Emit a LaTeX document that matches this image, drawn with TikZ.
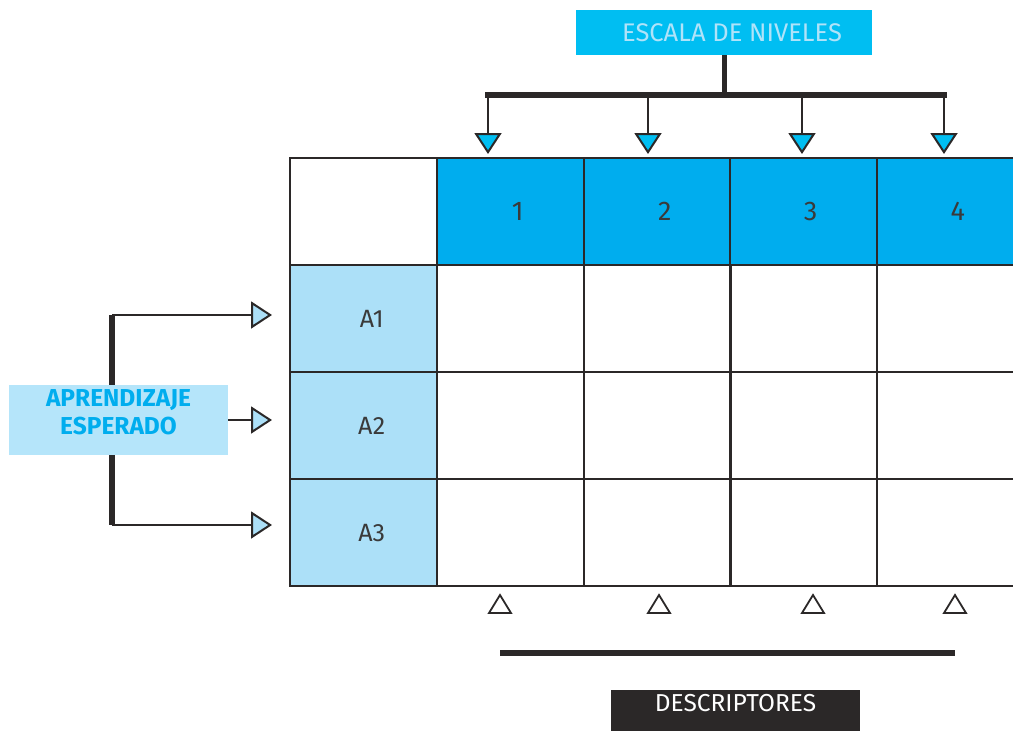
\documentclass[tikz,border=0pt]{standalone}
\usepackage{fontspec}
\setmainfont{Fira Sans}
\usetikzlibrary{arrows.meta}
\definecolor{dark}{HTML}{2B2828}
\definecolor{topcyan}{HTML}{00BEF2}
\definecolor{headcyan}{HTML}{00ADEE}
\definecolor{toptext}{HTML}{B0E3F9}
\definecolor{lightblue}{HTML}{ACE0F8}
\definecolor{leftbox}{HTML}{B5E5FA}
\definecolor{numgray}{HTML}{3A3A3A}
\tikzset{
  cell/.style={draw=dark, line width=2.4pt, minimum width=147pt, minimum height=107pt,
    inner sep=0pt, anchor=north west, text=numgray, font=\fontsize{27}{30}\selectfont},
  headcell/.style={cell, fill=headcyan},
  acell/.style={cell, fill=lightblue},
  numlab/.style={text=numgray, font=\fontsize{27}{30}\selectfont, xshift=7pt},
  downarrow/.style={draw=dark, line width=2pt,
    -{Triangle[width=27pt,length=21pt,fill=topcyan]}},
  rightarrow/.style={draw=dark, line width=2pt,
    -{Triangle[width=27pt,length=21pt,fill=lightblue]}},
  thickbar/.style={draw=dark, line width=6pt},
  opentri/.style={draw=dark, line width=1.8pt, fill=white, line join=miter},
}
\begin{document}
\begin{tikzpicture}[x=1pt,y=-1pt]
\clip (0,0) rectangle (1013,731);
\fill[white] (0,0) rectangle (1013,731);

% title box and its connectors
\node[fill=topcyan, minimum width=296pt, minimum height=45pt, inner sep=0pt] (esc) at (724,32.5) {};
\node[inner sep=0pt, text=toptext, font=\fontsize{25.5}{28}\selectfont] (esct) at (732,33) {ESCALA DE NIVELES};
\coordinate (bj) at (724,94.5);
\coordinate (bl) at (485,94.5);
\coordinate (br) at (947,94.5);
\draw[draw=dark, line width=5pt] (esc.south) -- (bj);
\draw[thickbar] (bl) -- (br);
\foreach \x [count=\i] in {488,648,802,944}{
  \coordinate (d\i) at (\x,94.5);
  \coordinate (t\i) at (\x,154);
  \draw[downarrow] (d\i) -- (t\i);
}

% table
\node[cell] (c00) at (289,157) {};
\node[headcell, label={[numlab]center:1}] (h1) at (436,157) {};
\node[headcell, label={[numlab]center:2}] (h2) at (583,157) {};
\node[headcell, label={[numlab]center:3}] (h3) at (729,157) {};
\node[headcell, label={[numlab]center:4}] (h4) at (876,157) {};
\foreach \y [count=\r] in {264,371,478}{
  \node[acell, label={[text=numgray, font=\fontsize{25}{28}\selectfont, xshift=8pt]center:A\r}] (a\r) at (289,\y) {};
  \foreach \x [count=\c] in {436,583,729,876}{
    \node[cell] (c\r\c) at (\x,\y) {};
  }
}

% left side: APRENDIZAJE ESPERADO
\coordinate (lt) at (112,315);
\coordinate (lb) at (112,525);
\draw[thickbar] (lt) -- (lb);
\coordinate (e1) at (272,315);
\coordinate (e2) at (272,420);
\coordinate (e3) at (272,525);
\draw[rightarrow] (lt) -- (e1);
\draw[rightarrow] (lb) -- (e3);
\node[fill=leftbox, minimum width=219pt, minimum height=70pt, inner sep=0pt] (ae) at (118.5,420) {};
\node[align=center, inner sep=0pt, text=headcyan,
      font=\fontseries{sb}\selectfont\fontsize{24.5}{28}\selectfont] (aet) at (118.5,412)
      {APRENDIZAJE\\ESPERADO};
\draw[rightarrow] (ae.east) -- (e2);

% bottom: descriptors
\foreach \x in {500,659,813,955}{
  \draw[opentri] (\x-11,613) -- (\x,595) -- (\x+11,613) -- cycle;
}
\coordinate (ml) at (500,653);
\coordinate (mr) at (955,653);
\draw[thickbar] (ml) -- (mr);
\node[fill=dark, minimum width=249pt, minimum height=41pt, inner sep=0pt,
      text=white, text height=13pt, text depth=11pt,
      font=\fontsize{24.5}{27}\selectfont] (desc) at (735.5,710.5) {DESCRIPTORES};
\end{tikzpicture}
\end{document}
